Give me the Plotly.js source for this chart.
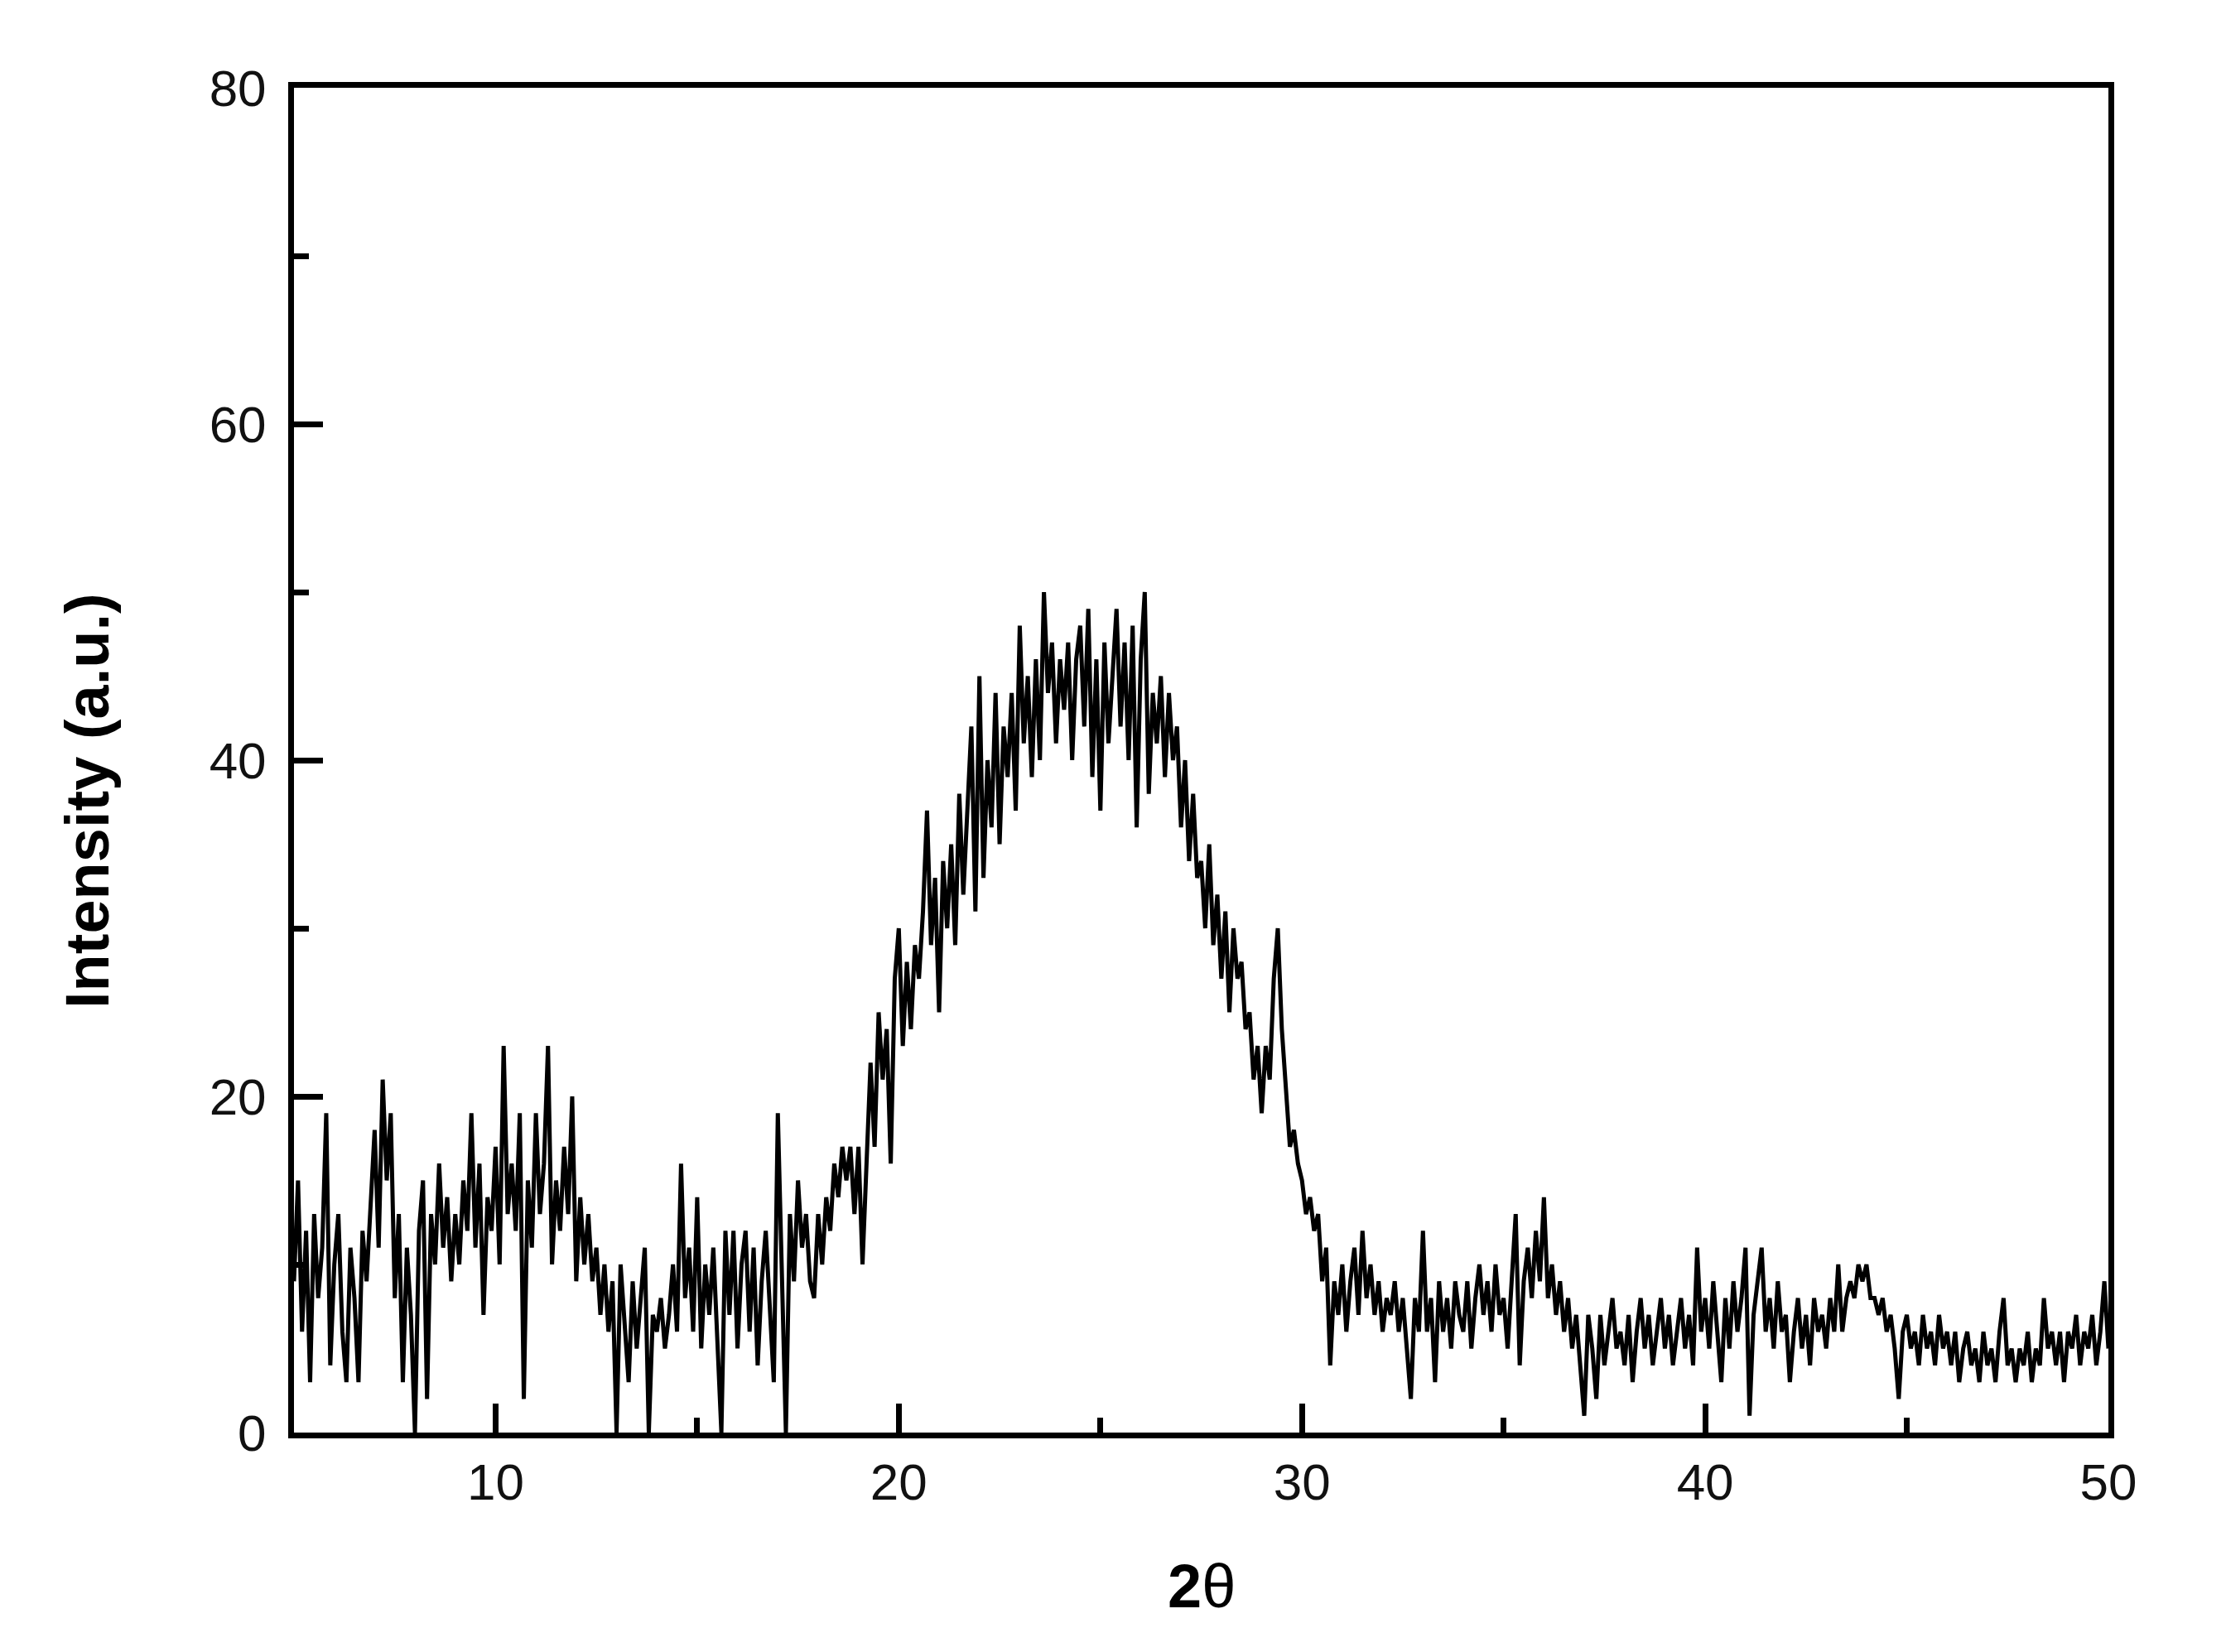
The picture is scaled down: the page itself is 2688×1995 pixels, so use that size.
<!DOCTYPE html>
<html>
<head>
<meta charset="utf-8">
<script src="https://cdn.plot.ly/plotly-3.0.1.min.js"></script>
<style>
    html, body { margin: 0; padding: 0; background: #fff; }
    #chart { width: 2688px; height: 1995px; }
</style>
</head>
<body>
<div id="chart"></div>
<script>
// 2θ scan: first angle and step of the intensity readings below
const twoThetaStart = 5;
const twoThetaStep = 0.1;

// intensity (a.u.), one value per 0.1° from 5 to 50
const intensity5to15 = [
    9, 15, 6, 12, 3, 13, 8, 11, 19, 4,
    10, 13, 6, 3, 11, 8, 3, 12, 9, 14,
    18, 11, 21, 15, 19, 8, 13, 3, 11, 7,
    0, 12, 15, 2, 13, 10, 16, 11, 14, 9,
    13, 10, 15, 12, 19, 11, 16, 7, 14, 12,
    17, 10, 23, 13, 16, 12, 19, 2, 15, 11,
    19, 13, 16, 23, 10, 15, 12, 17, 13, 20,
    9, 14, 10, 13, 9, 11, 7, 10, 6, 9,
    0, 10, 6, 3, 9, 5, 8, 11, 0, 7,
    6, 8, 5, 7, 10, 6, 16, 8, 11, 6
];
const intensity15to25 = [
    14, 5, 10, 7, 11, 5, 0, 12, 7, 12,
    5, 10, 12, 6, 11, 4, 9, 12, 7, 3,
    19, 9, 0, 13, 9, 15, 11, 13, 9, 8,
    13, 10, 14, 12, 16, 14, 17, 15, 17, 13,
    17, 10, 16, 22, 17, 25, 21, 24, 16, 27,
    30, 23, 28, 24, 29, 27, 31, 37, 29, 33,
    25, 34, 30, 35, 29, 38, 32, 37, 42, 31,
    45, 33, 40, 36, 44, 35, 42, 39, 44, 37,
    48, 41, 45, 39, 46, 40, 50, 44, 47, 41,
    46, 43, 47, 40, 46, 48, 42, 49, 39, 46
];
const intensity25to35 = [
    37, 47, 41, 45, 49, 42, 47, 40, 48, 36,
    46, 50, 38, 44, 41, 45, 39, 44, 40, 42,
    36, 40, 34, 38, 33, 34, 30, 35, 29, 32,
    27, 31, 25, 30, 27, 28, 24, 25, 21, 23,
    19, 23, 21, 27, 30, 24, 20, 17, 18, 16,
    15, 13, 14, 12, 13, 9, 11, 4, 9, 7,
    10, 6, 9, 11, 7, 12, 8, 10, 7, 9,
    6, 8, 7, 9, 6, 8, 5, 2, 8, 6,
    12, 6, 8, 3, 9, 6, 8, 5, 9, 7,
    6, 9, 5, 8, 10, 7, 9, 6, 10, 7
];
const intensity35to50 = [
    8, 5, 9, 13, 4, 9, 11, 8, 12, 9,
    14, 8, 10, 7, 9, 6, 8, 5, 7, 4,
    1, 7, 5, 2, 7, 4, 6, 8, 5, 6,
    4, 7, 3, 6, 8, 5, 7, 4, 6, 8,
    5, 7, 4, 6, 8, 5, 7, 4, 11, 6,
    8, 5, 9, 6, 3, 8, 5, 9, 6, 8,
    11, 1, 7, 9, 11, 6, 8, 5, 9, 6,
    7, 3, 6, 8, 5, 7, 4, 8, 6, 7,
    5, 8, 6, 10, 6, 8, 9, 8, 10, 9,
    10, 8, 8, 7, 8, 6, 7, 5, 2, 6,
    7, 5, 6, 4, 7, 5, 6, 4, 7, 5,
    6, 4, 6, 3, 5, 6, 4, 5, 3, 6,
    4, 5, 3, 6, 8, 4, 5, 3, 5, 4,
    6, 3, 5, 4, 8, 5, 6, 4, 6, 3,
    6, 5, 7, 4, 6, 5, 7, 4, 6, 9,
    5
];

const intensity = [...intensity5to15, ...intensity15to25, ...intensity25to35, ...intensity35to50];

const xTickValues = [10, 20, 30, 40, 50];
const yTickValues = [0, 20, 40, 60, 80];

const fontFamily = '"Liberation Sans", Arial, Helvetica, sans-serif';

function buildAxis(range, tickvals, minorStep, standoff) {
    return {
        range,
        tickmode: 'array',
        tickvals,
        ticktext: tickvals.map(String),
        ticks: 'inside',
        ticklen: 35,
        tickwidth: 7,
        tickcolor: '#000',
        ticklabelstandoff: standoff,
        tickfont: { family: fontFamily, size: 62, color: '#111' },
        minor: {
            ticks: 'inside',
            dtick: minorStep,
            tick0: 0,
            ticklen: 18,
            tickwidth: 7,
            tickcolor: '#000',
            showgrid: false
        },
        showline: true,
        linecolor: '#000',
        linewidth: 7,
        mirror: true,
        showgrid: false,
        zeroline: false,
        fixedrange: true
    };
}

function buildLayout() {
    return {
        width: 2688,
        height: 1995,
        margin: { l: 355, r: 142, t: 106, b: 265, pad: 0 },
        paper_bgcolor: '#fff',
        plot_bgcolor: '#fff',
        showlegend: false,
        xaxis: buildAxis([5, 50], xTickValues, 5, 0),
        yaxis: buildAxis([0, 80], yTickValues, 10, 14),
        annotations: [
            {
                // y title sits a little below the middle of the axis in the original
                text: '<b>Intensity (a.u.)</b>',
                xref: 'paper', yref: 'paper',
                x: -0.114, y: 0.47,
                xanchor: 'center', yanchor: 'middle',
                textangle: -90,
                showarrow: false,
                font: { family: fontFamily, size: 74, color: '#000' }
            },
            {
                text: '<b>2</b>θ',
                xref: 'paper', yref: 'paper',
                x: 0.5, y: -0.114,
                xanchor: 'center', yanchor: 'middle',
                showarrow: false,
                font: { family: fontFamily, size: 74, color: '#000' }
            }
        ]
    };
}

function buildTrace() {
    return {
        type: 'scatter',
        mode: 'lines',
        x0: twoThetaStart,
        dx: twoThetaStep,
        y: intensity,
        line: { color: '#000', width: 5 },
        hoverinfo: 'skip'
    };
}

Plotly.newPlot('chart', [buildTrace()], buildLayout(), {
    displayModeBar: false,
    staticPlot: true,
    responsive: false
});
</script>
</body>
</html>
